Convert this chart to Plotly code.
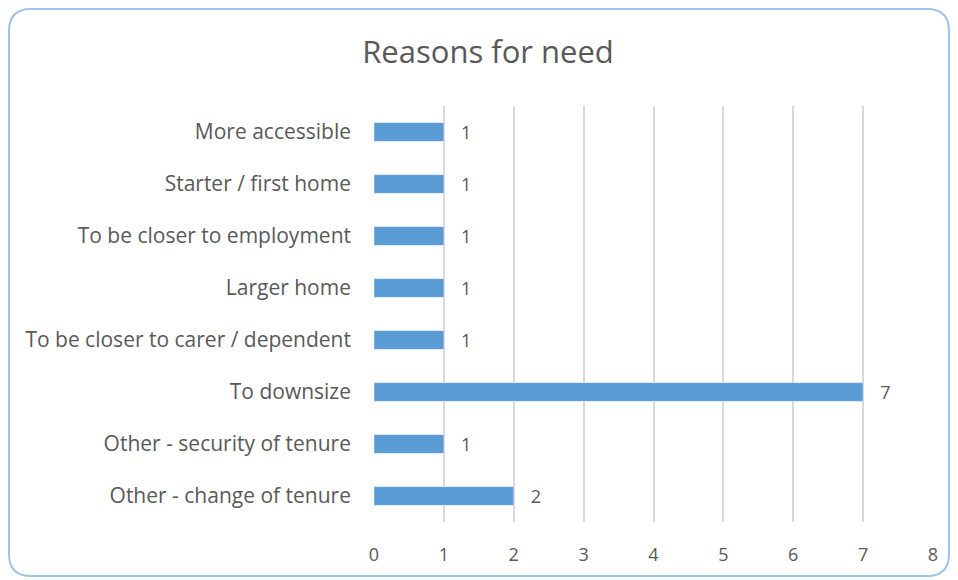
import plotly.graph_objects as go

categories = ["More accessible", "Starter / first home", "To be closer to employment",
              "Larger home", "To be closer to carer / dependent", "To downsize",
              "Other - security of tenure", "Other - change of tenure"]
values = [1, 1, 1, 1, 1, 7, 1, 2]
x_ticks = [0, 1, 2, 3, 4, 5, 6, 7, 8]

# figure is placed at (8,8) in the page by the default body margin
W, H = 942, 569
L, R, T, B = 366, 17, 98, 55
pw, ph = W - L - R, H - T - B

def px(x):
    return (x - L) / pw

def py(y):
    return 1 - (y - T) / ph

# rounded border path in paper coords (figure pixel coords)
x0, y0, x1, y1, r = 1, 1, W - 1, H - 1, 22
path = (f"M {px(x0+r)},{py(y0)} L {px(x1-r)},{py(y0)} "
        f"Q {px(x1)},{py(y0)} {px(x1)},{py(y0+r)} L {px(x1)},{py(y1-r)} "
        f"Q {px(x1)},{py(y1)} {px(x1-r)},{py(y1)} L {px(x0+r)},{py(y1)} "
        f"Q {px(x0)},{py(y1)} {px(x0)},{py(y1-r)} L {px(x0)},{py(y0+r)} "
        f"Q {px(x0)},{py(y0)} {px(x0+r)},{py(y0)} Z")

font = "'Open Sans', sans-serif"
grey = "#595959"

fig = go.Figure(go.Bar(
    x=values, y=categories, orientation="h",
    marker=dict(color="#5b9bd5"), width=0.36,
    text=["   " + str(v) for v in values], textposition="outside",
    constraintext="none",
    textfont=dict(family=font, size=18, color=grey),
    cliponaxis=False,
))

fig.update_layout(
    width=W, height=H,
    margin=dict(l=L, r=R, t=T, b=B, pad=0),
    paper_bgcolor="white", plot_bgcolor="white",
    title=dict(text="Reasons for need", xref="container", x=(488 - 8) / W, xanchor="center",
               yref="container", y=1 - (52 - 8) / H, yanchor="middle",
               font=dict(family=font, size=31, color=grey)),
    xaxis=dict(range=[0, 8], tickvals=x_ticks, showgrid=True, gridcolor="#d9d9d9",
               gridwidth=1.5, zeroline=False, showline=False,
               tickfont=dict(family=font, size=18, color=grey), ticks="", ticklabelstandoff=20),
    yaxis=dict(categoryorder="array", categoryarray=categories[::-1],
               showgrid=False, zeroline=False, showline=False,
               tickfont=dict(family=font, size=21, color=grey), ticks="", ticklabelstandoff=22),
    showlegend=False,
    shapes=[dict(type="path", path=path, xref="paper", yref="paper",
                 line=dict(color="#9dc3e6", width=2), layer="below")],
    font=dict(family=font),
)

fig.write_html("out.html")
